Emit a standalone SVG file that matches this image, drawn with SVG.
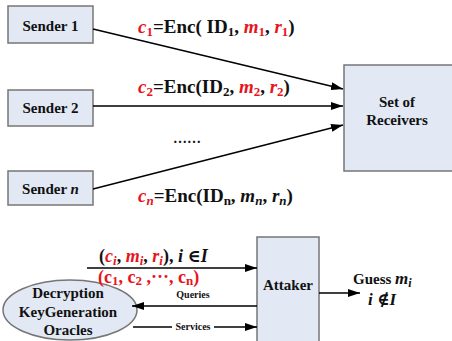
<svg xmlns="http://www.w3.org/2000/svg" width="452" height="341" viewBox="0 0 452 341">
<defs>
<marker id="ah" markerWidth="12" markerHeight="8" refX="12" refY="4" orient="auto" markerUnits="userSpaceOnUse">
<path d="M0,0 L12,4 L0,8 Z" fill="#000"/>
</marker>
<style>
.box{fill:#e2e9f4;stroke:#767676;stroke-width:1.5}
.t{font-weight:bold;fill:#111}
.lbl{font-size:15px;text-anchor:middle}
.f{font-size:19px}
.r{fill:#e8141c}
.i{font-style:italic}
.s{font-size:13px}
.ln{stroke:#000;stroke-width:1.5;fill:none}
</style>
</defs>
<rect width="452" height="341" fill="#fff"/>
<g font-family="'Liberation Serif', 'DejaVu Serif', serif">
<g id="sender1"><rect class="box" x="8" y="6" width="85" height="37"/><text class="t lbl" x="50.5" y="31">Sender 1</text></g>
<g id="sender2"><rect class="box" x="8" y="90" width="85" height="36"/><text class="t lbl" x="50.5" y="113">Sender 2</text></g>
<g id="sendern"><rect class="box" x="8" y="171" width="85" height="34"/><text class="t lbl" x="50.5" y="194">Sender <tspan class="i">n</tspan></text></g>
<g id="receivers"><rect class="box" x="344" y="65" width="110" height="106"/><text class="t lbl" x="397" y="107">Set of</text><text class="t lbl" x="397" y="125">Receivers</text></g>
<g id="attaker"><rect class="box" x="257" y="237" width="62" height="110"/><text class="t lbl" x="288" y="290">Attaker</text></g>
<g id="oracles"><ellipse cx="70" cy="310" rx="67" ry="30" fill="#e2e9f4" stroke="#767676" stroke-width="1.5"/>
<text class="t lbl" x="68" y="298">Decryption</text><text class="t lbl" x="68" y="317">KeyGeneration</text><text class="t lbl" x="68" y="335">Oracles</text></g>
<g id="connectors">
<line class="ln" x1="93" y1="29" x2="343" y2="89" marker-end="url(#ah)"/>
<line class="ln" x1="93" y1="106" x2="343" y2="106" marker-end="url(#ah)"/>
<line class="ln" x1="93" y1="189" x2="343" y2="125" marker-end="url(#ah)"/>
<line class="ln" x1="87" y1="268" x2="257" y2="268" marker-end="url(#ah)"/>
<line class="ln" x1="257" y1="306" x2="132" y2="306" marker-end="url(#ah)"/>
<line class="ln" x1="133" y1="327" x2="172" y2="327"/>
<line class="ln" x1="214" y1="327" x2="257" y2="327" marker-end="url(#ah)"/>
<line class="ln" x1="319" y1="293" x2="360" y2="293" marker-end="url(#ah)"/>
</g>
<g id="labels">
<text class="t f" x="138" y="33"><tspan class="r i">c</tspan><tspan class="r s" dy="3">1</tspan><tspan dy="-3">=Enc( ID</tspan><tspan class="s" dy="3">1</tspan><tspan dy="-3">, </tspan><tspan class="r i">m</tspan><tspan class="r s" dy="3">1</tspan><tspan dy="-3">, </tspan><tspan class="r i">r</tspan><tspan class="r s" dy="3">1</tspan><tspan dy="-3">)</tspan></text>
<text class="t f" x="138" y="93"><tspan class="r i">c</tspan><tspan class="r s" dy="3">2</tspan><tspan dy="-3">=Enc(ID</tspan><tspan class="s" dy="3">2</tspan><tspan dy="-3">, </tspan><tspan class="r i">m</tspan><tspan class="r s" dy="3">2</tspan><tspan dy="-3">, </tspan><tspan class="r i">r</tspan><tspan class="r s" dy="3">2</tspan><tspan dy="-3">)</tspan></text>
<text class="t" x="173" y="143" font-size="14">……</text>
<text class="t f" x="138" y="202"><tspan class="r i">c</tspan><tspan class="r s i" dy="3">n</tspan><tspan dy="-3">=Enc(ID</tspan><tspan class="s" dy="3">n</tspan><tspan dy="-3">, </tspan><tspan class="i">m</tspan><tspan class="s i" dy="3">n</tspan><tspan dy="-3">, </tspan><tspan class="i">r</tspan><tspan class="s i" dy="3">n</tspan><tspan dy="-3">)</tspan></text>
<text class="t" x="99" y="262" font-size="18">(<tspan class="r i">c</tspan><tspan class="r i s" dy="3">i</tspan><tspan dy="-3">, </tspan><tspan class="r i">m</tspan><tspan class="r i s" dy="3">i</tspan><tspan dy="-3">, </tspan><tspan class="r i">r</tspan><tspan class="r i s" dy="3">i</tspan><tspan dy="-3">),  </tspan><tspan class="i">i</tspan> ∈<tspan class="i">I</tspan></text>
<text class="t r" x="98" y="283" font-size="18">(c<tspan class="s" dy="2">1</tspan><tspan dy="-2">, c</tspan><tspan class="s" dy="2">2</tspan><tspan dy="-2"> ,···, c</tspan><tspan class="s" dy="2">n</tspan><tspan dy="-2">)</tspan></text>
<text class="t" x="193" y="298" font-size="10" text-anchor="middle">Queries</text>
<text class="t" x="193" y="330" font-size="10" text-anchor="middle">Services</text>
<text class="t" x="353" y="284" font-size="15">Guess <tspan class="i" font-size="17">m</tspan><tspan class="i" font-size="12" dy="3">i</tspan></text>
<text class="t i" x="368" y="305" font-size="17">i <tspan font-style="normal">∉</tspan><tspan>I</tspan></text>
</g>
</g>
</svg>
